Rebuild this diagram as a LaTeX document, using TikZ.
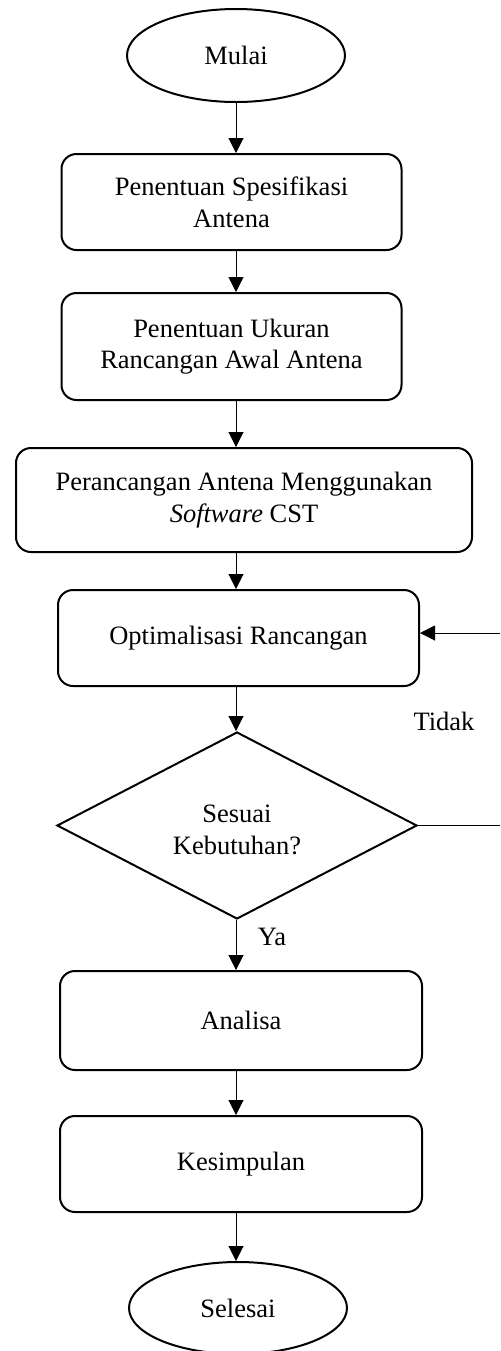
\documentclass[tikz,border=0pt]{standalone}
\usepackage{fontspec}
\setmainfont{Liberation Serif}
\usetikzlibrary{shapes.geometric,arrows.meta}
\tikzset{
  every node/.style={font=\fontsize{13.25}{15.8}\selectfont, align=center},
  procbox/.style={draw, line width=1pt, rounded corners=7.5pt, rectangle, inner sep=0pt},
  termbox/.style={draw, line width=1pt, ellipse, inner sep=0pt},
  decbox/.style={draw, line width=1pt, diamond, inner sep=0pt},
  flow/.style={line width=0.5pt, -{Triangle[length=7.5pt,width=7.5pt]}},
  plain/.style={line width=0.5pt}
}
\begin{document}
\begin{tikzpicture}[x=0.5pt,y=-0.5pt]
\useasboundingbox (0,0) rectangle (500,1351);
\coordinate (axis) at (236,0);
\node[termbox, minimum width=109pt, minimum height=46.5pt] (mulai) at (236,55.5) {Mulai};
\node[procbox, minimum width=170pt, minimum height=48pt] (b1) at (231.5,202) {Penentuan Spesifikasi\\Antena};
\node[procbox, minimum width=170pt, minimum height=53.5pt] (b2) at (231.5,346.5) {Penentuan Ukuran\\Rancangan Awal Antena};
\node[procbox, minimum width=228pt, minimum height=52pt] (b3) at (244,500) {Perancangan Antena Menggunakan\\\textit{Software} CST};
\node[procbox, minimum width=180.5pt, minimum height=48pt] (b4) at (238.5,638) {Optimalisasi Rancangan};
\node[decbox, minimum width=180pt, minimum height=93.5pt, aspect=1.925] (dec) at (237,825.5) {};
\node (dectext) at (237,830) {Sesuai\\Kebutuhan?};
\node[procbox, minimum width=181pt, minimum height=49.5pt] (b5) at (241,1020.5) {Analisa};
\node[procbox, minimum width=181pt, minimum height=48pt] (b6) at (241,1164) {Kesimpulan};
\node[termbox, minimum width=109pt, minimum height=46pt] (selesai) at (238,1308) {Selesai};
\node (tidak) at (444,721) {Tidak};
\node (ya) at (272,937) {Ya};
\coordinate (fbin) at (500,633);
\coordinate (fbout) at (500,825.5);
\draw[flow] (mulai.south -| axis) -- (b1.north -| axis);
\draw[flow] (b1.south -| axis) -- (b2.north -| axis);
\draw[flow] (b2.south -| axis) -- (b3.north -| axis);
\draw[flow] (b3.south -| axis) -- (b4.north -| axis);
\draw[flow] (b4.south -| axis) -- (dec.north -| axis);
\draw[flow] (dec.south -| axis) -- (b5.north -| axis);
\draw[flow] (b5.south -| axis) -- (b6.north -| axis);
\draw[flow] (b6.south -| axis) -- (selesai.north -| axis);
\draw[plain] (dec.east) -- (fbout);
\draw[flow] (fbin) -- (fbin -| b4.east);
\end{tikzpicture}
\end{document}
